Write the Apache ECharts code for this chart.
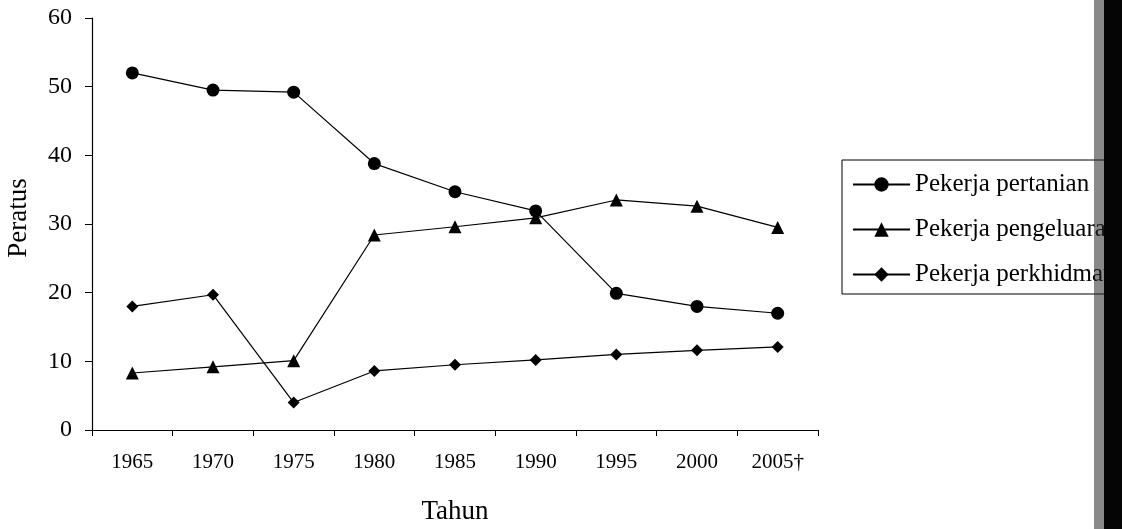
<!DOCTYPE html>
<html>
<head>
<meta charset="utf-8">
<script src="https://cdn.jsdelivr.net/npm/echarts@6/dist/echarts.min.js"></script>
<style>
  html, body { margin: 0; padding: 0; background: #fff; }
  #chart { width: 1122px; height: 529px; }
</style>
</head>
<body>
<div id="chart"></div>
<script>
// data (percent)
const years = ['1965', '1970', '1975', '1980', '1985', '1990', '1995', '2000', '2005\u2020'];
const pertanian = [52.0, 49.5, 49.2, 38.8, 34.7, 31.9, 19.9, 18.0, 17.0];
const pengeluaran = [8.3, 9.2, 10.1, 28.4, 29.6, 30.9, 33.5, 32.6, 29.5];
const perkhidmatan = [18.0, 19.7, 4.0, 8.6, 9.5, 10.2, 11.0, 11.6, 12.1];
const yTicks = [0, 10, 20, 30, 40, 50, 60];

const serif = '"Liberation Serif", "DejaVu Serif", serif';
const ink = '#000';

const chart = echarts.init(document.getElementById('chart'));

function lineSeries(name, data, symbol, size) {
  return {
    name: name,
    type: 'line',
    data: data,
    symbol: symbol,
    symbolSize: size,
    showAllSymbol: true,
    itemStyle: { color: ink },
    lineStyle: { color: ink, width: 1.2 },
    emphasis: { disabled: true }
  };
}

chart.setOption({
  animation: false,
  backgroundColor: '#fff',
  grid: { left: 92, top: 18, right: 304, bottom: 99, outerBoundsMode: 'none' },
  xAxis: {
    type: 'category',
    data: years,
    boundaryGap: true,
    name: 'Tahun',
    nameLocation: 'middle',
    nameGap: 68,
    nameTextStyle: { fontFamily: serif, fontSize: 27, color: ink },
    axisLine: { lineStyle: { color: ink, width: 1.2 } },
    axisTick: { show: true, length: 6, lineStyle: { color: ink } },
    axisLabel: { fontFamily: serif, fontSize: 21, color: ink, margin: 22 },
    splitLine: { show: false }
  },
  yAxis: {
    type: 'value',
    min: yTicks[0],
    max: yTicks[yTicks.length - 1],
    interval: 10,
    name: 'Peratus',
    nameLocation: 'middle',
    nameGap: 60,
    nameTextStyle: { fontFamily: serif, fontSize: 27, color: ink, padding: [0, 0, 0, 12] },
    axisLine: { show: true, lineStyle: { color: ink, width: 1.2 } },
    axisTick: { show: true, length: 7, lineStyle: { color: ink } },
    axisLabel: { fontFamily: serif, fontSize: 24, color: ink, margin: 20 },
    splitLine: { show: false }
  },
  legend: {
    orient: 'vertical',
    left: 842,
    top: 160,
    padding: [12, 40, 7, 10],
    itemWidth: 57,
    itemHeight: 18,
    itemGap: 20,
    borderColor: ink,
    borderWidth: 1,
    textStyle: { fontFamily: serif, fontSize: 25, color: ink },
    data: ['Pekerja pertanian', 'Pekerja pengeluaran', 'Pekerja perkhidmatan']
  },
  graphic: [
    {
      type: 'rect',
      z: 100,
      shape: { x: 1094, y: 0, width: 14, height: 529 },
      style: { fill: 'rgba(40,40,40,0.55)' }
    },
    {
      type: 'rect',
      z: 101,
      shape: { x: 1104, y: 0, width: 18, height: 529 },
      style: { fill: '#050505' }
    }
  ],
  series: [
    lineSeries('Pekerja pertanian', pertanian, 'circle', 13),
    lineSeries('Pekerja pengeluaran', pengeluaran, 'triangle', 13),
    lineSeries('Pekerja perkhidmatan', perkhidmatan, 'diamond', 12)
  ]
});
</script>
</body>
</html>
